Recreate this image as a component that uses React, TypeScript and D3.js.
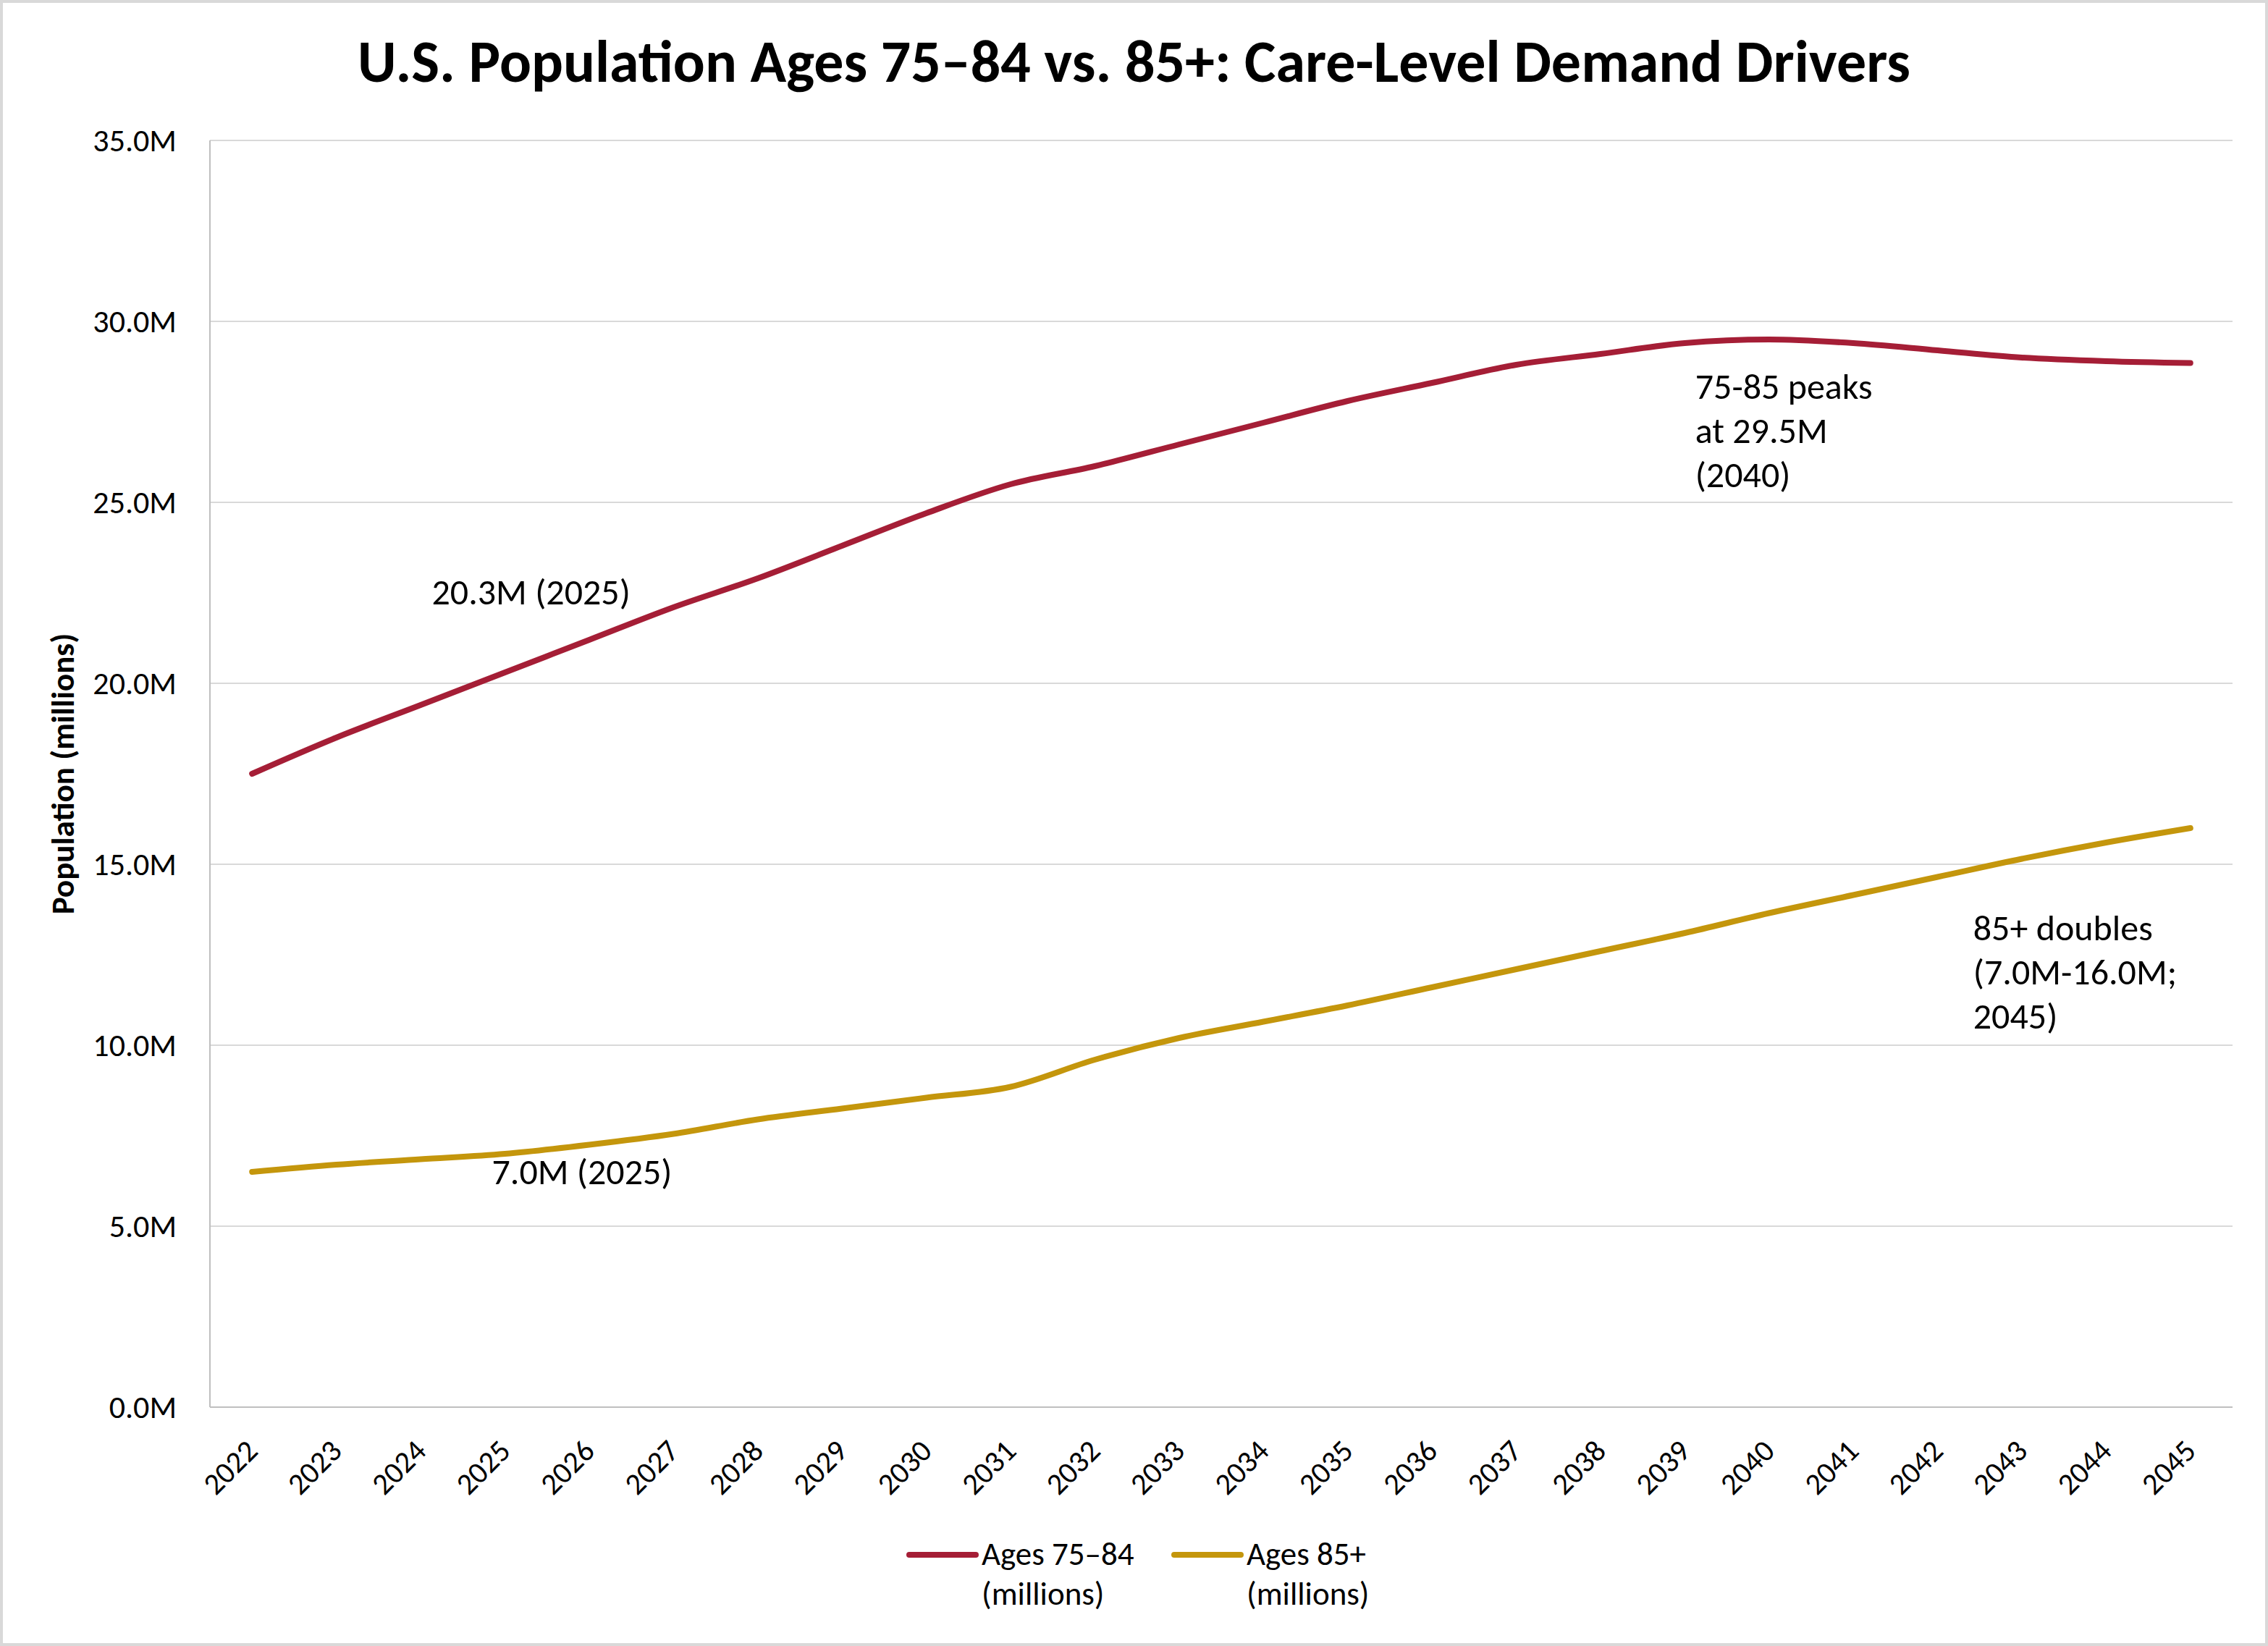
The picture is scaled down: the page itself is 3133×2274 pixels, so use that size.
import React, { useEffect, useRef } from 'react';
import * as d3 from 'd3';

// Projected U.S. older-adult population, millions
const years = [
  2022, 2023, 2024, 2025, 2026, 2027, 2028, 2029, 2030, 2031, 2032, 2033,
  2034, 2035, 2036, 2037, 2038, 2039, 2040, 2041, 2042, 2043, 2044, 2045,
];
const ages75to84 = [
  17.5, 18.5, 19.4, 20.3, 21.2, 22.1, 22.9, 23.8, 24.7, 25.5, 26.0, 26.6,
  27.2, 27.8, 28.3, 28.8, 29.1, 29.4, 29.5, 29.4, 29.2, 29.0, 28.9, 28.85,
];
const ages85plus = [
  6.5, 6.7, 6.85, 7.0, 7.25, 7.55, 7.95, 8.25, 8.55, 8.85, 9.6, 10.2,
  10.65, 11.1, 11.6, 12.1, 12.6, 13.1, 13.65, 14.15, 14.65, 15.15, 15.6, 16.0,
];
const yTicks = [0, 5, 10, 15, 20, 25, 30, 35];

const seriesNames = ['Ages 75–84', 'Ages 85+'];
const seriesColors = ['#A51E36', '#C4960C'];

const W = 3133;
const H = 2274;
const FONT = "Carlito, Calibri, Lato, 'Open Sans', sans-serif";

const App: React.FC = () => {
  const svgRef = useRef<SVGSVGElement>(null);

  useEffect(() => {
    if (!svgRef.current) return;
    const svg = d3.select(svgRef.current);
    svg.selectAll('*').remove();

    const plot = { left: 290, right: 3084, top: 194, bottom: 1944 };

    // --- SCALES ---
    const x = d3.scalePoint<number>()
      .domain(years)
      .range([plot.left, plot.right])
      .padding(0.5);

    const y = d3.scaleLinear()
      .domain([0, 35])
      .range([plot.bottom, plot.top]);

    // background + chart border
    svg.append('rect')
      .attr('x', 0).attr('y', 0).attr('width', W).attr('height', H)
      .attr('fill', '#fff');
    svg.append('rect')
      .attr('x', 2).attr('y', 2).attr('width', W - 4).attr('height', H - 4)
      .attr('fill', 'none').attr('stroke', '#d9d9d9').attr('stroke-width', 4);

    // title
    svg.append('text')
      .attr('x', W / 2)
      .attr('y', 113)
      .attr('text-anchor', 'middle')
      .attr('font-family', FONT)
      .attr('font-weight', 'bold')
      .attr('font-size', 82)
      .attr('fill', '#000')
      .text('U.S. Population Ages 75–84 vs. 85+: Care-Level Demand Drivers');

    // --- GRID + Y AXIS ---
    svg.append('g')
      .selectAll('line')
      .data(yTicks.filter(t => t > 0))
      .enter()
      .append('line')
      .attr('x1', plot.left).attr('x2', plot.right)
      .attr('y1', d => y(d)).attr('y2', d => y(d))
      .attr('stroke', '#d9d9d9')
      .attr('stroke-width', 2);

    svg.append('line')
      .attr('x1', plot.left).attr('x2', plot.left)
      .attr('y1', plot.top).attr('y2', plot.bottom)
      .attr('stroke', '#bfbfbf').attr('stroke-width', 2);
    svg.append('line')
      .attr('x1', plot.left).attr('x2', plot.right)
      .attr('y1', plot.bottom).attr('y2', plot.bottom)
      .attr('stroke', '#bfbfbf').attr('stroke-width', 2);

    svg.append('g')
      .selectAll('text')
      .data(yTicks)
      .enter()
      .append('text')
      .attr('x', 244)
      .attr('y', d => y(d))
      .attr('dy', '0.35em')
      .attr('text-anchor', 'end')
      .attr('font-family', FONT)
      .attr('font-size', 44)
      .attr('fill', '#000')
      .text(d => `${d.toFixed(1)}M`);

    svg.append('text')
      .attr('transform', `translate(102, ${(plot.top + plot.bottom) / 2}) rotate(-90)`)
      .attr('text-anchor', 'middle')
      .attr('font-family', FONT)
      .attr('font-weight', 'bold')
      .attr('font-size', 45)
      .attr('fill', '#000')
      .text('Population (millions)');

    // --- X AXIS (rotated year labels) ---
    svg.append('g')
      .selectAll('text')
      .data(years)
      .enter()
      .append('text')
      .attr('transform', d => `translate(${(x(d) || 0) + 10}, 2007) rotate(-45)`)
      .attr('text-anchor', 'end')
      .attr('font-family', FONT)
      .attr('font-size', 42)
      .attr('fill', '#000')
      .text(d => String(d));

    // --- LINES ---
    const line = d3.line<number>()
      .curve(d3.curveCatmullRom.alpha(0))
      .x((_, i) => x(years[i]) || 0)
      .y(d => y(d));

    [ages75to84, ages85plus].forEach((values, s) => {
      svg.append('path')
        .datum(values)
        .attr('fill', 'none')
        .attr('stroke', seriesColors[s])
        .attr('stroke-width', 8)
        .attr('stroke-linecap', 'round')
        .attr('stroke-linejoin', 'round')
        .attr('d', line);
    });

    // --- ANNOTATIONS ---
    const idx = (yr: number) => years.indexOf(yr);
    const notes = [
      { lines: ['20.3M (2025)'], yr: 2025, v: ages75to84[idx(2025)], dx: -101, dy: -94 },
      { lines: ['7.0M (2025)'], yr: 2025, v: ages85plus[idx(2025)], dx: -18, dy: 42 },
      { lines: ['75-85 peaks', 'at 29.5M', '(2040)'], yr: 2040, v: ages75to84[idx(2040)], dx: -102, dy: 82 },
      { lines: ['85+ doubles', '(7.0M-16.0M;', '2045)'], yr: 2045, v: ages85plus[idx(2045)], dx: -300, dy: 155 },
    ];
    notes.forEach(n => {
      const t = svg.append('text')
        .attr('font-family', FONT)
        .attr('font-size', 50)
        .attr('fill', '#000');
      n.lines.forEach((ln, i) => {
        t.append('tspan')
          .attr('x', (x(n.yr) || 0) + n.dx)
          .attr('y', y(n.v) + n.dy + i * 61)
          .text(ln);
      });
    });

    // --- LEGEND ---
    const legendX = [1256, 1622];
    seriesNames.forEach((name, s) => {
      const g = svg.append('g').attr('transform', `translate(${legendX[s]}, 2148)`);
      g.append('line')
        .attr('x1', 0).attr('x2', 92)
        .attr('y1', 0).attr('y2', 0)
        .attr('stroke', seriesColors[s])
        .attr('stroke-width', 8)
        .attr('stroke-linecap', 'round');
      const t = g.append('text')
        .attr('font-family', FONT)
        .attr('font-size', 45)
        .attr('fill', '#000');
      t.append('tspan').attr('x', 100).attr('y', 14).text(name);
      t.append('tspan').attr('x', 100).attr('y', 69).text('(millions)');
    });
  }, []);

  return (
    <svg
      ref={svgRef}
      width={W}
      height={H}
      style={{ position: 'absolute', left: 0, top: 0, display: 'block' }}
    />
  );
};

export default App;
